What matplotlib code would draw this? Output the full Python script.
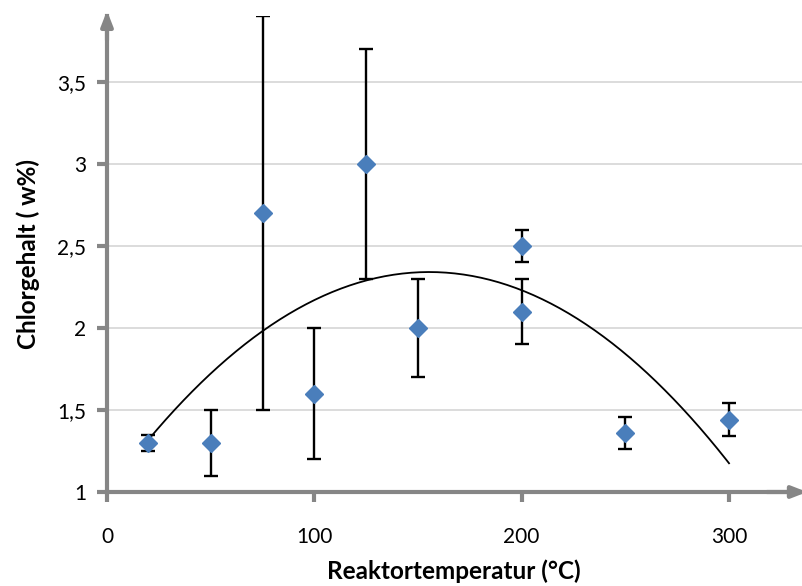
import numpy as np
import matplotlib.pyplot as plt
from matplotlib.ticker import FuncFormatter

plt.rcParams['font.family'] = ['Lato', 'DejaVu Sans']

# Reaktortemperatur (°C), Chlorgehalt (w%) und Fehlerbalken
temp = [20, 50, 75, 100, 125, 150, 200, 200, 250, 300]
chlor = [1.3, 1.3, 2.7, 1.6, 3.0, 2.0, 2.5, 2.1, 1.36, 1.44]
fehler = [0.05, 0.2, 1.2, 0.4, 0.7, 0.3, 0.1, 0.2, 0.1, 0.1]

y_ticks = [1, 1.5, 2, 2.5, 3, 3.5]
x_ticks = [0, 100, 200, 300]

axis_grey = '#868686'

fig = plt.figure(figsize=(8.03, 5.86), dpi=100)
ax = fig.add_axes([107 / 803, 94 / 586, 0.865, 0.8116])

# Polynom 2. Ordnung als Trendlinie
coef = np.polyfit(temp, chlor, 2)
xs = np.linspace(min(temp), max(temp), 200)
ax.plot(xs, np.polyval(coef, xs), color='black', lw=1.3, zorder=2)

ax.errorbar(temp, chlor, yerr=fehler, fmt='none', ecolor='black',
            elinewidth=1.7, capsize=5, capthick=1.7, zorder=3)
ax.plot(temp, chlor, 'D', color='#4a7ebb', ms=9, mec='#4a7ebb', zorder=4)

ax.set_xlim(0, 335)
ax.set_ylim(1, 3.9)
ax.set_xticks(x_ticks)
ax.set_yticks(y_ticks)
ax.yaxis.set_major_formatter(FuncFormatter(lambda v, p: f'{v:g}'.replace('.', ',')))
ax.grid(axis='y', color='#d9d9d9', lw=1.3)
ax.set_axisbelow(True)

for s in ['top', 'right']:
    ax.spines[s].set_visible(False)
for s in ['left', 'bottom']:
    ax.spines[s].set_color(axis_grey)
    ax.spines[s].set_linewidth(3)

ax.tick_params(axis='both', colors=axis_grey, width=3, length=7, labelsize=15,
               labelcolor='black')
ax.tick_params(axis='x', pad=18)
ax.tick_params(axis='y', pad=8)

# Pfeilspitzen an den Achsenenden
ax.annotate('', xy=(0, 1.012), xytext=(0, 0.95), xycoords='axes fraction',
            arrowprops=dict(arrowstyle='-|>,head_length=0.9,head_width=0.35',
                            color=axis_grey, lw=3, shrinkA=0, shrinkB=0),
            annotation_clip=False)
ax.annotate('', xy=(1.008, 0), xytext=(0.95, 0), xycoords='axes fraction',
            arrowprops=dict(arrowstyle='-|>,head_length=0.9,head_width=0.35',
                            color=axis_grey, lw=3, shrinkA=0, shrinkB=0),
            annotation_clip=False)

ax.set_xlabel('Reaktortemperatur (°C)', fontsize=17.5, fontweight='bold', labelpad=9)
ax.set_ylabel('Chlorgehalt ( w%)', fontsize=17.5, fontweight='bold', labelpad=12)

fig.savefig('out.png', dpi=100)
